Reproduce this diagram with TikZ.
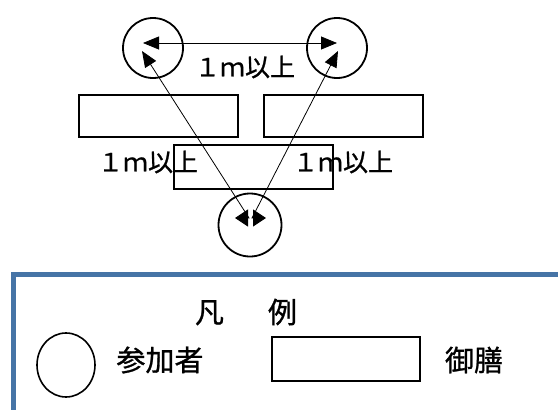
\documentclass[tikz,border=0pt]{standalone}
\usepackage{fontspec}
\newfontfamily\jp{Noto Sans CJK JP}[FakeBold=0.9]
\usetikzlibrary{arrows.meta,shapes.geometric}
\definecolor{legblue}{RGB}{70,116,166}
\begin{document}
\begin{tikzpicture}[x=1pt,y=-1pt,
  person/.style={draw,line width=1.8pt,circle,minimum size=60pt,inner sep=0pt},
  tray/.style={draw,line width=1.8pt,rectangle,inner sep=0pt,anchor=north west},
  lbl/.style={font=\jp\fontsize{25}{27}\selectfont,inner sep=0pt},
  leg/.style={font=\jp\fontsize{29}{32}\selectfont,inner sep=0pt},
  dist/.style={line width=0.8pt,{Triangle[length=16pt,width=13pt]}-{Triangle[length=13pt,width=17pt]}},
  hdist/.style={line width=0.8pt,{Triangle[length=16pt,width=13pt]}-{Triangle[length=16pt,width=13pt]}}]
\useasboundingbox (0,0) rectangle (558,410);
% participants
\node[person] (p1) at (153,48) {};
\node[person] (p2) at (337,48) {};
\node[person,minimum size=63pt] (p3) at (250,225) {};
% trays
\node[tray,minimum width=159pt,minimum height=42pt] (t1) at (78,94) {};
\node[tray,minimum width=159pt,minimum height=42pt] (t2) at (263,94) {};
\node[tray,minimum width=159pt,minimum height=44pt] (t3) at (173,144) {};
% arrow coordinates
\coordinate (a1) at (143,43);
\coordinate (a2) at (337,43);
\coordinate (b1) at (142,51);
\coordinate (b2) at (249,218);
\coordinate (b3) at (235,218);
\coordinate (c1) at (338,51);
\coordinate (c2) at (252,218);
\coordinate (c3) at (266,218);
\draw[hdist] (a1) -- (a2);
\draw[dist] (b1) -- (b2) -- (b3);
\draw[dist] (c1) -- (c2) -- (c3);
% labels
\node[lbl] (l1) at (245,67) {１ｍ以上};
\node[lbl] (l2) at (148,162) {１ｍ以上};
\node[lbl] (l3) at (343,162) {１ｍ以上};
% legend
\begin{scope}
\clip (0,0) rectangle (558,410);
\draw[legblue,line width=5pt] (13,274.5) rectangle (600,450);
\end{scope}
\node[leg] (lt) at (246,312) {凡\hspace{44pt}例};
\node[draw,line width=1.6pt,ellipse,minimum width=58pt,minimum height=64pt,inner sep=0pt] (lc) at (66,365) {};
\node[leg] (lp) at (160,360) {参加者};
\node[draw,line width=1.8pt,rectangle,minimum width=148pt,minimum height=44pt,inner sep=0pt] (lr) at (346,359) {};
\node[leg] (lg) at (474,360) {御膳};
\end{tikzpicture}
\end{document}
